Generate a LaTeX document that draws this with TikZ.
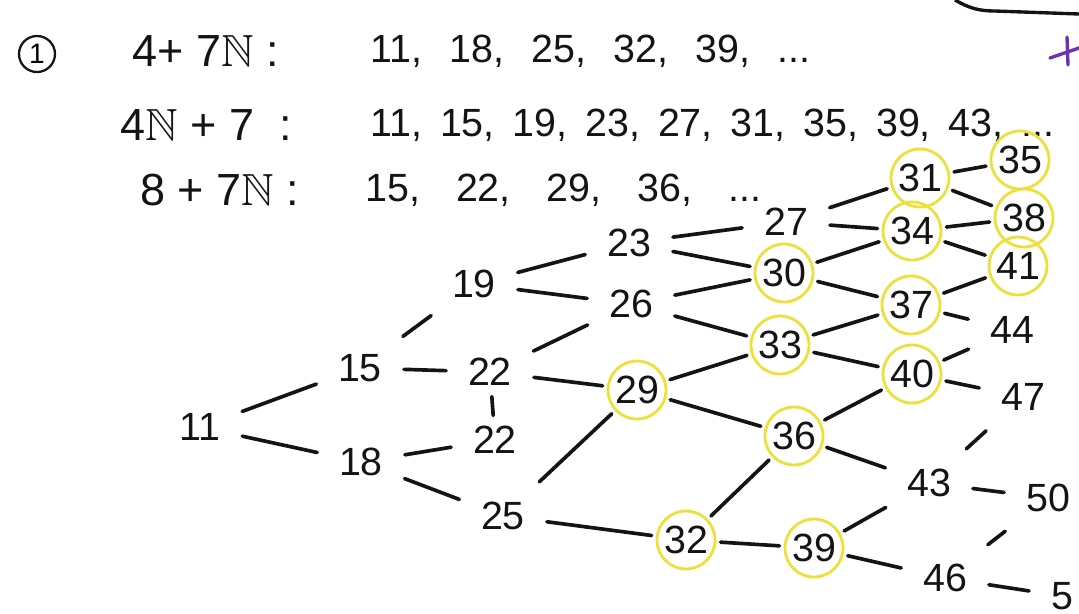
\documentclass[tikz,border=0pt]{standalone}
\usepackage{fontspec}
\usepackage{amssymb}
\setmainfont{Liberation Sans}
\definecolor{marker}{RGB}{234,226,58}
\definecolor{pen}{RGB}{20,20,20}
\definecolor{violetpen}{RGB}{112,48,176}

\begin{document}
\begin{tikzpicture}[x=0.025cm, y=-0.025cm,
        num/.style={rectangle, inner sep=0.2cm, outer sep=6pt, text=pen, font=\fontsize{28}{30}\selectfont},
        hit/.style={num, circle, inner sep=0pt, outer sep=0pt, minimum size=1.45cm, draw=marker, line width=2pt},
        link/.style={draw=pen, line width=2.6pt, line cap=round, shorten <=4pt, shorten >=4pt},
        tick/.style={link, shorten <=-4pt, shorten >=-4pt},
        head/.style={anchor=base west, inner sep=0pt, text=pen, font=\fontsize{32}{36}\selectfont},
        seq/.style={anchor=base west, inner sep=0pt, text=pen, font=\fontsize{28}{32}\selectfont}
    ]
        \useasboundingbox (0,0) rectangle (1079,613);

        % the three sequences
        \node[circle, draw=pen, line width=1.6pt, minimum size=0.9cm, inner sep=0pt, font=\fontsize{20}{22}\selectfont] (item) at (37,54) {1};
        \node[head] (lineA) at (132,66) {4+ 7$\mathbb{N}$ :};
        \node[seq] (seqA) at (370,62) {\makebox[11cm][s]{11, 18, 25, 32, 39, ...}};
        \node[head] (lineB) at (120,140) {4$\mathbb{N}$ + 7 \ :};
        \node[seq] (seqB) at (370,136) {\makebox[17.1cm][s]{11, 15, 19, 23, 27, 31, 35, 39, 43, ...}};
        \node[head] (lineC) at (140,205) {8 + 7$\mathbb{N}$ :};
        \node[seq] (seqC) at (365,201) {\makebox[9.9cm][s]{15, 22, 29, 36, ...}};

        % tree
        \node[num] (n11) at (200,427) {11};
        \node[num] (n15) at (360,368) {15};
        \node[num] (n18) at (361,462) {18};
        \node[num] (n19) at (474,284) {19};
        \node[num] (n22) at (490,372) {22};
        \node[num] (n22b) at (495,440) {22};
        \node[num] (n25) at (503,516) {25};
        \node[num] (n23) at (629,243) {23};
        \node[num] (n26) at (631,304) {26};
        \node[hit] (n29) at (637,390) {29};
        \node[hit] (n32) at (686,540) {32};
        \node[num] (n27) at (786,222) {27};
        \node[hit] (n30) at (784,273) {30};
        \node[hit] (n33) at (780,345) {33};
        \node[hit] (n36) at (794,436) {36};
        \node[hit] (n39) at (814,548) {39};
        \node[hit] (n31) at (920,178) {31};
        \node[hit] (n34) at (912,231) {34};
        \node[hit] (n37) at (911,305) {37};
        \node[hit] (n40) at (912,374) {40};
        \node[num] (n43) at (929,483) {43};
        \node[num] (n46) at (945,578) {46};
        \node[hit] (n35) at (1020,160) {35};
        \node[hit] (n38) at (1024,218) {38};
        \node[hit] (n41) at (1018,266) {41};
        \node[num] (n44) at (1012,330) {44};
        \node[num] (n47) at (1023,397) {47};
        \node[num] (n50) at (1048,498) {50};
        \node[num] (n53) at (1062,596) {5};

        \draw[link] (n11)--(n15); \draw[link] (n11)--(n18);
        \draw[link] (n15)--(n19); \draw[link] (n15)--(n22);
        \draw[link] (n18)--(n22b); \draw[link] (n18)--(n25);
        \draw[tick] (n22)--(n22b);
        \draw[link] (n19)--(n23); \draw[link] (n19)--(n26);
        \draw[link] (n22)--(n26); \draw[link] (n22)--(n29);
        \draw[link] (n25)--(n29); \draw[link] (n25)--(n32);
        \draw[link] (n23)--(n27); \draw[link] (n23)--(n30);
        \draw[link] (n26)--(n30); \draw[link] (n26)--(n33);
        \draw[link] (n29)--(n33); \draw[link] (n29)--(n36);
        \draw[link] (n32)--(n36); \draw[link] (n32)--(n39);
        \draw[link] (n27)--(n31); \draw[link] (n27)--(n34);
        \draw[link] (n30)--(n34); \draw[link] (n30)--(n37);
        \draw[link] (n33)--(n37); \draw[link] (n33)--(n40);
        \draw[link] (n36)--(n40); \draw[link] (n36)--(n43);
        \draw[link] (n39)--(n43); \draw[link] (n39)--(n46);
        \draw[link] (n31)--(n35); \draw[link] (n31)--(n38);
        \draw[link] (n34)--(n38); \draw[link] (n34)--(n41);
        \draw[link] (n37)--(n41); \draw[link] (n37)--(n44);
        \draw[link] (n40)--(n44); \draw[link] (n40)--(n47);
        \draw[link] (n43)--(n47); \draw[link] (n43)--(n50);
        \draw[link] (n46)--(n50); \draw[link] (n46)--(n53);

        % marks at the top right
        \draw[pen, line width=2.4pt] (955,0) to[out=-30, in=180] (995,11) -- (1079,14);
        \draw[violetpen, line width=2.4pt, line cap=round] (1050,58) -- (1079,48);
        \draw[violetpen, line width=2.4pt, line cap=round] (1067,37) -- (1068,65);
\end{tikzpicture}
\end{document}
